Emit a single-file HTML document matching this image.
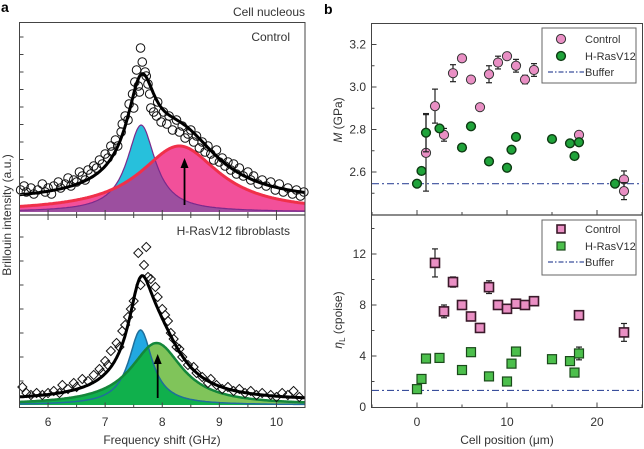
<!DOCTYPE html>
<html><head><meta charset="utf-8"><style>
body{margin:0;background:#fff;}
svg{display:block;font-family:"Liberation Sans",sans-serif;}
</style></head><body>
<svg id="fig" width="644" height="449" viewBox="0 0 644 449"></svg>
<script>
// ---------- Panel a data ----------
const topX=[5.52,5.58,5.62,5.7,5.75,5.82,5.9,5.95,6.0,6.06,6.1,6.18,6.22,6.3,6.35,6.4,6.45,6.5,6.55,6.6,6.65,6.7,6.75,6.8,6.85,6.9,6.95,7.0,7.05,7.1,7.12,7.18,7.22,7.28,7.3,7.35,7.4,7.42,7.48,7.5,7.52,7.55,7.58,7.6,7.62,7.65,7.7,7.72,7.75,7.78,7.8,7.85,7.9,7.92,7.98,8.02,8.08,8.12,8.18,8.25,8.3,8.35,8.4,8.45,8.5,8.55,8.6,8.65,8.7,8.75,8.8,8.85,8.9,8.95,9.0,9.05,9.1,9.15,9.2,9.25,9.3,9.35,9.42,9.5,9.55,9.6,9.68,9.75,9.82,9.9,9.98,10.05,10.12,10.2,10.28,10.35,10.42,10.48];
const topY=[22,26,20,24,18,22,28,20,24,18,26,30,24,28,34,26,32,30,40,36,32,42,38,46,44,52,48,58,54,66,60,72,66,80,88,96,92,108,118,104,130,142,126,120,164,150,140,136,128,118,104,100,96,110,90,100,88,96,82,92,80,86,74,78,82,70,76,64,70,60,66,58,52,62,50,54,46,50,42,48,38,44,36,40,32,36,28,32,26,30,22,28,20,24,18,22,16,20];
const topBlue=[87,7.63,0.3]; // amplitude, center, HWHM
const topPink=[66,8.3,0.85];
const topOffset=[10];
const botX=[5.55,5.62,5.7,5.8,5.9,6.0,6.1,6.2,6.25,6.35,6.45,6.5,6.6,6.7,6.8,6.9,6.95,7.0,7.05,7.1,7.2,7.25,7.3,7.35,7.4,7.45,7.5,7.58,7.62,7.68,7.72,7.75,7.8,7.88,7.92,8.0,8.05,8.1,8.15,8.2,8.25,8.3,8.35,8.45,8.55,8.6,8.7,8.8,8.85,8.95,9.05,9.15,9.25,9.35,9.45,9.55,9.65,9.75,9.9,10.0,10.1,10.2,10.3,10.4];
const botY=[18,12,10,12,10,12,14,12,20,16,22,18,26,24,30,36,32,44,40,54,62,58,74,80,88,96,104,152,120,140,158,128,126,118,108,96,90,84,72,66,58,56,48,40,38,32,28,22,26,20,16,18,14,16,12,14,10,12,10,8,12,10,14,8];
const botBlue=[75,7.62,0.25];
const botGreen=[62,7.9,0.55];
const botOffset=[4];
const freqTicks=[6,7,8,9,10];
// ---------- Panel b data ----------
const mCtrlX=[1,2,3,4,5,6,7,8,9,10,11,12,13,18,23,23];
const mCtrlY=[2.69,2.91,2.775,3.065,3.135,3.035,2.905,3.06,3.115,3.145,3.10,3.035,3.08,2.775,2.565,2.51];
const mCtrlErr=[0.18,0.08,0.03,0.04,0.01,0.01,0.01,0.04,0.03,0.01,0.03,0.02,0.03,0.01,0.04,0.04];
const mRasX=[0,0.5,1,2.5,5,6,8,10,10.5,11,15,17,17.5,18,22];
const mRasY=[2.545,2.605,2.785,2.805,2.715,2.815,2.65,2.62,2.705,2.765,2.755,2.735,2.675,2.74,2.545];
const mRasErr=[0,0,0.09,0.01,0,0,0,0,0,0,0,0,0,0,0];
const mBuffer=[2.545];
const mTicks=[2.6,2.8,3.0,3.2];
const eCtrlX=[2,3,4,5,6,7,8,9,10,11,12,13,18,23];
const eCtrlY=[11.3,7.5,9.8,8.0,7.1,6.2,9.4,8.0,7.7,8.1,8.0,8.3,7.2,5.85];
const eCtrlErr=[1.1,0.5,0.4,0.2,0.2,0.2,0.5,0.2,0.2,0.2,0.2,0.2,0.2,0.7];
const eRasX=[0,0.5,1,2.5,5,6,8,10,10.5,11,15,17,17.5,18];
const eRasY=[1.4,2.2,3.8,3.85,2.9,4.3,2.4,2.0,3.4,4.35,3.75,3.6,2.7,4.2];
const eRasErr=[0,0,0,0.3,0,0,0,0,0,0,0,0,0,0.5];
const eBuffer=[1.3];
const eTicks=[0,4,8,12];
const posTicks=[0,10,20];

const NS="http://www.w3.org/2000/svg";
const svg=document.getElementById('fig');
function mk(tag,attrs,parent){const e=document.createElementNS(NS,tag);for(const k in attrs)e.setAttribute(k,attrs[k]);(parent||svg).appendChild(e);return e;}
function txt(s,x,y,attrs,parent){const t=mk('text',Object.assign({x:x,y:y,'font-size':12,fill:'#333'},attrs),parent);t.textContent=s;return t;}
function lor(p,x){return p[0]/(1+Math.pow((x-p[1])/p[2],2));}

const fx=g=>19.5+(g-5.5)*57.1;
const fyT=v=>212-v;
const fyB=v=>405-v;
const grid=[];for(let g=5.5;g<=10.5001;g+=0.02)grid.push(g);

function areaPath(f,fy){let d='M'+fx(5.5)+','+fy(0);grid.forEach(g=>d+=' L'+fx(g).toFixed(1)+','+fy(f(g)).toFixed(1));d+=' L'+fx(10.5)+','+fy(0)+'Z';return d;}
function linePath(f,fy){let d='';grid.forEach((g,i)=>d+=(i?' L':'M')+fx(g).toFixed(1)+','+fy(f(g)).toFixed(1));return d;}

const gA=mk('g',{});


let e;
e=mk('path',{d:areaPath(g=>lor(topBlue,g),fyT),fill:'#27c0dc'},gA);

e=mk('path',{d:areaPath(g=>lor(topPink,g),fyT),fill:'#f2509a'},gA);

e=mk('path',{d:areaPath(g=>Math.min(lor(topPink,g),lor(topBlue,g)),fyT),fill:'#9c4f9f'},gA);

mk('path',{d:linePath(g=>lor(topBlue,g),fyT),fill:'none',stroke:'#7a2a8c','stroke-width':1.2},gA);
mk('path',{d:linePath(g=>lor(topPink,g),fyT),fill:'none',stroke:'#f0304a','stroke-width':3},gA);
topX.forEach((x,i)=>{const c=mk('circle',{cx:fx(x),cy:fyT(topY[i]),r:4.3,fill:'none',stroke:'#111','stroke-width':1},gA);

});
e=mk('path',{d:linePath(g=>lor(topBlue,g)+lor(topPink,g)+topOffset[0],fyT),fill:'none',stroke:'#000','stroke-width':3},gA);

mk('line',{x1:fx(8.39),y1:205,x2:fx(8.39),y2:166,stroke:'#000','stroke-width':1.8},gA);
mk('path',{d:`M${fx(8.39)-4},168 L${fx(8.39)},158 L${fx(8.39)+4},168Z`,fill:'#000'},gA);

const gB=mk('g',{});


e=mk('path',{d:areaPath(g=>lor(botBlue,g),fyB),fill:'#22a8e2'},gB);

e=mk('path',{d:areaPath(g=>lor(botGreen,g),fyB),fill:'#80c45a'},gB);

e=mk('path',{d:areaPath(g=>Math.min(lor(botGreen,g),Math.max(lor(botBlue,g),g<7.7?99:0)),fyB),fill:'#10b04c'},gB);
mk('path',{d:linePath(g=>lor(botBlue,g),fyB),fill:'none',stroke:'#1f6e9a','stroke-width':1.5},gB);
mk('path',{d:linePath(g=>lor(botGreen,g),fyB),fill:'none',stroke:'#14873a','stroke-width':2.5},gB);
botX.forEach((x,i)=>{const c=mk('rect',{x:-3.2,y:-3.2,width:6.4,height:6.4,fill:'none',stroke:'#111','stroke-width':1,transform:`translate(${fx(x)},${fyB(botY[i])}) rotate(45)`},gB);

});
e=mk('path',{d:linePath(g=>lor(botBlue,g)+lor(botGreen,g)+botOffset[0],fyB),fill:'none',stroke:'#000','stroke-width':3},gB);

mk('line',{x1:fx(7.92),y1:398,x2:fx(7.92),y2:362,stroke:'#000','stroke-width':1.8},gB);
mk('path',{d:`M${fx(7.92)-4},364 L${fx(7.92)},354 L${fx(7.92)+4},364Z`,fill:'#000'},gB);

const fa=mk('g',{});


mk('rect',{x:19.5,y:22.5,width:285.5,height:385,fill:'none',stroke:'#444','stroke-width':1},fa);
mk('line',{x1:19.5,y1:215,x2:305,y2:215,stroke:'#444','stroke-width':1.2},fa);
for(let v=17.5;v<190;v+=17.5)mk('line',{x1:19.5,y1:212-v,x2:23.5,y2:212-v,stroke:'#444'},fa);
for(let v=24;v<180;v+=24)mk('line',{x1:19.5,y1:405-v,x2:23.5,y2:405-v,stroke:'#444'},fa);
for(let g=5.5;g<=10.5;g+=0.5){const L=Number.isInteger(g)?5:3;
mk('line',{x1:fx(g),y1:215,x2:fx(g),y2:215-L,stroke:'#444'},fa);
mk('line',{x1:fx(g),y1:215,x2:fx(g),y2:215+L,stroke:'#444'},fa);
mk('line',{x1:fx(g),y1:407.5,x2:fx(g),y2:407.5-L,stroke:'#444'},fa);}
freqTicks.forEach(t=>{const l=txt(String(t),fx(t),426,{'text-anchor':'middle'},fa);});
e=txt('Frequency shift (GHz)',162,444,{'text-anchor':'middle'},fa);
e=txt('Brillouin intensity (a.u.)',0,0,{'text-anchor':'middle',transform:'translate(11,215) rotate(-90)'},fa);
e=txt('Cell nucleous',305,16,{'text-anchor':'end'},fa);
e=txt('Control',290,41,{'text-anchor':'end'},fa);
e=txt('H-RasV12 fibroblasts',290,235,{'text-anchor':'end'},fa);
e=txt('a',1,12,{'font-weight':'bold','font-size':14,fill:'#000'});
e=txt('b',324,14,{'font-weight':'bold','font-size':14,fill:'#000'});

const bx=p=>417+p*9;
const by1=m=>172-(m-2.6)*212.5;
const by2=v=>407-v*12.75;
const fb=mk('g',{});


mk('rect',{x:371.5,y:23.5,width:271,height:384,fill:'none',stroke:'#444'},fb);
mk('line',{x1:371.5,y1:215,x2:643,y2:215,stroke:'#444','stroke-width':1.2},fb);
for(let p=-5;p<=25;p+=5){const L=p%10===0?5:3;
mk('line',{x1:bx(p),y1:215,x2:bx(p),y2:215-L,stroke:'#444'},fb);
mk('line',{x1:bx(p),y1:407.5,x2:bx(p),y2:407.5-L,stroke:'#444'},fb);}
for(let k=25;k<=32;k++){const m=k/10;const L=k%2===0?5:3;mk('line',{x1:371.5,y1:by1(m),x2:371.5+L,y2:by1(m),stroke:'#444'},fb);}
for(let v=2;v<=14;v+=2){const L=v%4===0?5:3;mk('line',{x1:371.5,y1:by2(v),x2:371.5+L,y2:by2(v),stroke:'#444'},fb);}
mTicks.forEach(t=>{const l=txt(t.toFixed(1),366,by1(t)+4,{'text-anchor':'end'},fb);});
eTicks.forEach(t=>{const l=txt(String(t),366,by2(t)+4,{'text-anchor':'end'},fb);});
posTicks.forEach(t=>{const l=txt(String(t),bx(t),426,{'text-anchor':'middle'},fb);});
e=txt('Cell position (μm)',507,444,{'text-anchor':'middle'},fb);
e=mk('text',{transform:'translate(342,120) rotate(-90)','text-anchor':'middle','font-size':12,fill:'#333'},fb);
e.innerHTML='<tspan font-style="italic">M</tspan> (GPa)';

e=mk('text',{transform:'translate(342,320) rotate(-90)','text-anchor':'middle','font-size':12,fill:'#333'},fb);
e.innerHTML='<tspan font-style="italic">η</tspan><tspan font-size="8" dy="3">L</tspan><tspan dy="-3"> (cpoise)</tspan>';


e=mk('line',{x1:372,y1:by1(mBuffer[0]),x2:643,y2:by1(mBuffer[0]),stroke:'#3a4f9c','stroke-width':1.2,'stroke-dasharray':'7,3,2,3'});

e=mk('line',{x1:372,y1:by2(eBuffer[0]),x2:643,y2:by2(eBuffer[0]),stroke:'#3a4f9c','stroke-width':1.2,'stroke-dasharray':'7,3,2,3'});


function errbar(x,y,e,fy){if(e<=0.0001)return;const g=mk('g',{stroke:'#222','stroke-width':1.2});
mk('line',{x1:bx(x),y1:fy(y+e),x2:bx(x),y2:fy(y-e)},g);
mk('line',{x1:bx(x)-3,y1:fy(y+e),x2:bx(x)+3,y2:fy(y+e)},g);
mk('line',{x1:bx(x)-3,y1:fy(y-e),x2:bx(x)+3,y2:fy(y-e)},g);}
mCtrlX.forEach((x,i)=>{errbar(x,mCtrlY[i],mCtrlErr[i],by1);const c=mk('circle',{cx:bx(x),cy:by1(mCtrlY[i]),r:4.6,fill:'#e98fc4',stroke:'#333','stroke-width':1});

});
mRasX.forEach((x,i)=>{errbar(x,mRasY[i],mRasErr[i],by1);const c=mk('circle',{cx:bx(x),cy:by1(mRasY[i]),r:4.4,fill:'#1fa33a',stroke:'#0d3a12','stroke-width':1.4});

});
eCtrlX.forEach((x,i)=>{errbar(x,eCtrlY[i],eCtrlErr[i],by2);const c=mk('rect',{x:bx(x)-4.5,y:by2(eCtrlY[i])-4.5,width:9,height:9,fill:'#ea8fc4',stroke:'#3a1a2a','stroke-width':1.6});

});
eRasX.forEach((x,i)=>{errbar(x,eRasY[i],eRasErr[i],by2);const c=mk('rect',{x:bx(x)-4.5,y:by2(eRasY[i])-4.5,width:9,height:9,fill:'#4cbf4c',stroke:'#1a4a1a','stroke-width':1.2});

});

function legend(y0,name,square){const g=mk('g',{});


mk('rect',{x:542,y:y0,width:94,height:55,fill:'#fff',stroke:'#666'},g);
if(square){mk('rect',{x:557,y:y0+5,width:8,height:8,fill:'#ea8fc4',stroke:'#3a1a2a','stroke-width':1.6},g);mk('rect',{x:557,y:y0+22,width:8,height:8,fill:'#4cbf4c',stroke:'#1a4a1a','stroke-width':1.2},g);}
else{mk('circle',{cx:561,cy:y0+11,r:4.6,fill:'#e98fc4',stroke:'#333'},g);mk('circle',{cx:561,cy:y0+28,r:4.4,fill:'#1fa33a',stroke:'#0d3a12','stroke-width':1.4},g);}
const off=square?-2:0;
txt('Control',585,y0+15+off,{'font-size':11},g);
txt('H-RasV12',585,y0+32+off,{'font-size':11},g);
mk('line',{x1:548,y1:y0+44+off,x2:584,y2:y0+44+off,stroke:'#3a4f9c','stroke-width':1.2,'stroke-dasharray':'5,2,1.5,2'},g);
txt('Buffer',585,y0+48+off,{'font-size':11},g);}
legend(28,'legend-m',false);
legend(220,'legend-eta',true);
</script>
</body></html>
